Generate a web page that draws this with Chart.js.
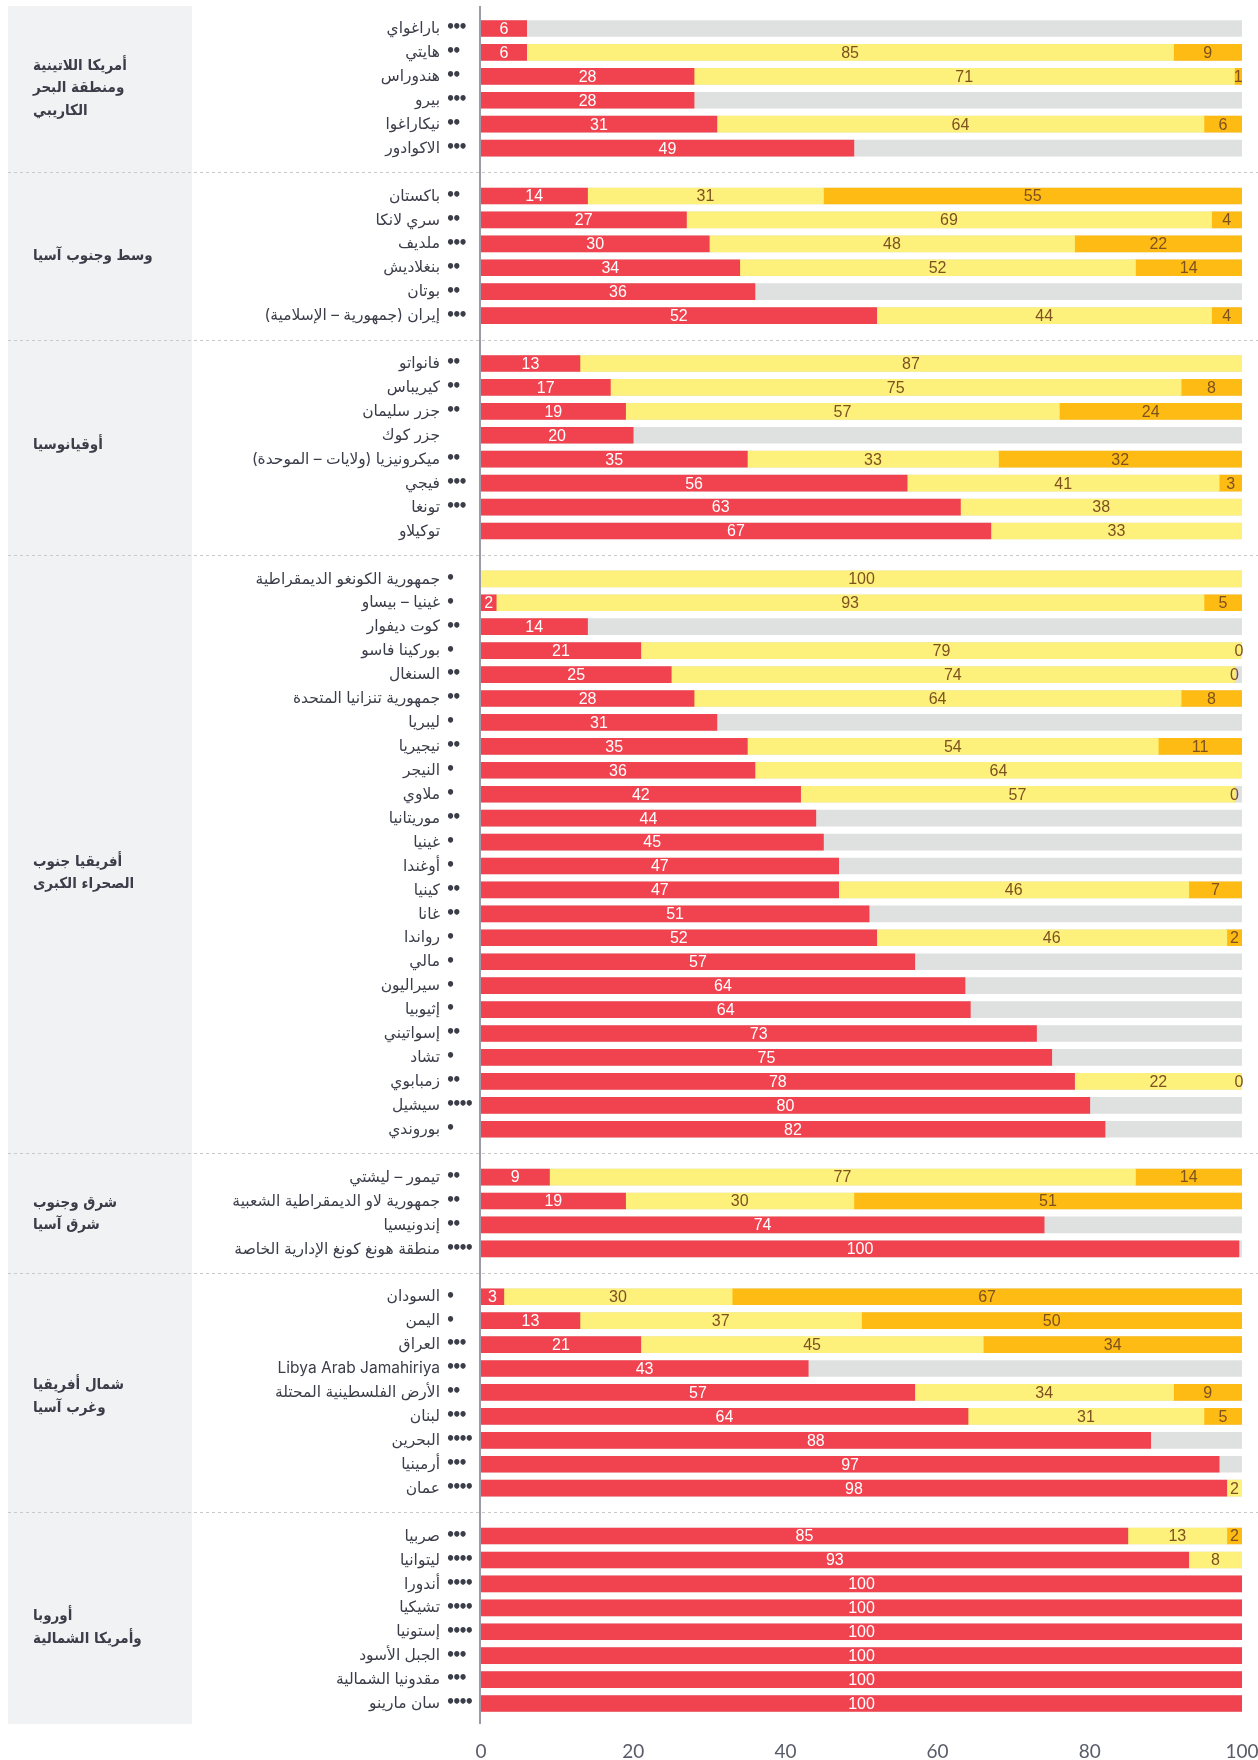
<!DOCTYPE html>
<html>
<head>
<meta charset="utf-8">
<script src="https://cdn.jsdelivr.net/npm/chart.js@4.4.1/dist/chart.umd.min.js"></script>
<style>
  html, body { margin: 0; padding: 0; background: #ffffff; }
  #wrap { width: 1258px; height: 1760px; position: relative; }
</style>
</head>
<body>
<div id="wrap"><canvas id="c" width="1258" height="1760" dir="rtl"></canvas></div>
<script>
// ---------- DATA ----------
const groupTitles = [
  ["أمريكا اللاتينية", "ومنطقة البحر", "الكاريبي"],
  ["وسط وجنوب آسيا"],
  ["أوقيانوسيا"],
  ["أفريقيا جنوب", "الصحراء الكبرى"],
  ["شرق وجنوب", "شرق آسيا"],
  ["شمال أفريقيا", "وغرب آسيا"],
  ["أوروبا", "وأمريكا الشمالية"]
];
const groupSizes = [6, 6, 8, 24, 4, 9, 8];

const countries = [
  "باراغواي", "هايتي", "هندوراس", "بيرو", "نيكاراغوا", "الاكوادور",
  "باكستان", "سري لانكا", "ملديف", "بنغلاديش", "بوتان", "إيران (جمهورية – الإسلامية)",
  "فانواتو", "كيريباس", "جزر سليمان", "جزر كوك", "ميكرونيزيا (ولايات – الموحدة)", "فيجي", "تونغا", "توكيلاو",
  "جمهورية الكونغو الديمقراطية", "غينيا – بيساو", "كوت ديفوار", "بوركينا فاسو", "السنغال", "جمهورية تنزانيا المتحدة",
  "ليبريا", "نيجيريا", "النيجر", "ملاوي", "موريتانيا", "غينيا", "أوغندا", "كينيا", "غانا", "رواندا", "مالي",
  "سيراليون", "إثيوبيا", "إسواتيني", "تشاد", "زمبابوي", "سيشيل", "بوروندي",
  "تيمور – ليشتي", "جمهورية لاو الديمقراطية الشعبية", "إندونيسيا", "منطقة هونغ كونغ الإدارية الخاصة",
  "السودان", "اليمن", "العراق", "Libya Arab Jamahiriya", "الأرض الفلسطينية المحتلة", "لبنان", "البحرين", "أرمينيا", "عمان",
  "صربيا", "ليتوانيا", "أندورا", "تشيكيا", "إستونيا", "الجبل الأسود", "مقدونيا الشمالية", "سان مارينو"
];
const dotCounts = [
  3, 2, 2, 3, 2, 3,
  2, 2, 3, 2, 2, 3,
  2, 2, 2, 0, 2, 3, 3, 0,
  1, 1, 2, 1, 2, 2, 1, 2, 1, 1, 2, 1, 1, 2, 2, 1, 1, 1, 1, 2, 1, 2, 4, 1,
  2, 2, 2, 4,
  1, 1, 3, 3, 2, 3, 4, 3, 4,
  3, 4, 4, 4, 4, 3, 3, 4
];
const redValues = [
  6, 6, 28, 28, 31, 49,
  14, 27, 30, 34, 36, 52,
  13, 17, 19, 20, 35, 56, 63, 67,
  null, 2, 14, 21, 25, 28, 31, 35, 36, 42, 44, 45, 47, 47, 51, 52, 57, 63.6, 64.3, 73, 75, 78, 80, 82,
  9, 19, 74, 99.6,
  3, 13, 21, 43, 57, 64, 88, 97, 98,
  85, 93, 100, 100, 100, 100, 100, 100
];
const yellowValues = [
  null, 85, 71, null, 64, null,
  31, 69, 48, 52, null, 44,
  87, 75, 57, null, 33, 41, 38, 33,
  100, 93, null, 79, 74, 64, null, 54, 64, 57, null, null, null, 46, null, 46, null, null, null, null, null, 22, null, null,
  77, 30, null, null,
  30, 37, 45, null, 34, 31, null, null, 2,
  13, 8, null, null, null, null, null, null
];
const orangeValues = [
  null, 9, 1, null, 6, null,
  55, 4, 22, 14, null, 4,
  null, 8, 24, null, 32, 3, null, null,
  null, 5, null, 0, 0, 8, null, 11, null, 0, null, null, null, 7, null, 2, null, null, null, null, null, 0, null, null,
  14, 51, null, null,
  67, 50, 34, null, 9, 5, null, null, null,
  2, null, null, null, null, null, null, null
];
const trackValue = 100;
const xTickValues = [0, 20, 40, 60, 80, 100];

// ---------- BUILD ROWS (with blank separator rows between groups) ----------
const rowLabels = [], rowCountryIndex = [], separatorRows = [], groupRowRanges = [];
let ci = 0;
groupSizes.forEach((n, g) => {
  const first = rowLabels.length;
  for (let k = 0; k < n; k++) { rowLabels.push(countries[ci]); rowCountryIndex.push(ci); ci++; }
  groupRowRanges.push([first, rowLabels.length - 1]);
  if (g < groupSizes.length - 1) { separatorRows.push(rowLabels.length); rowLabels.push(""); rowCountryIndex.push(-1); }
});
const mapRows = arr => rowCountryIndex.map(i => i < 0 ? null : arr[i]);
const trackRows = rowCountryIndex.map(i => i < 0 ? null : trackValue);

const COLORS = { red: '#f0434f', yellow: '#fdf17b', orange: '#fdbb13', track: '#dfe0e0' };
const TEXT = '#3b3d49';
const titleNudge = [0, 0, -2, 19, 1, 4, 8];

const decoPlugin = {
  id: 'deco',
  beforeDraw(chart) {
    const { ctx, chartArea: a } = chart;
    ctx.save();
    ctx.fillStyle = '#f1f2f4';
    ctx.fillRect(8, a.top - 10.5, 184, a.bottom - a.top + 19);
    ctx.restore();
  },
  beforeDatasetsDraw(chart) {
    const { ctx, scales: { y } } = chart;
    ctx.save();
    ctx.strokeStyle = '#c8c9cd';
    ctx.lineWidth = 1;
    ctx.setLineDash([3, 3]);
    separatorRows.forEach(r => {
      const py = Math.round(y.getPixelForValue(r)) + 0.5;
      ctx.beginPath(); ctx.moveTo(8, py); ctx.lineTo(chart.width, py); ctx.stroke();
    });
    ctx.restore();
  },
  afterDatasetsDraw(chart) {
    const { ctx, chartArea: a } = chart;
    ctx.save();
    ctx.font = '16px "Liberation Sans Narrow", "Arial Narrow", sans-serif';
    ctx.textAlign = 'center';
    ctx.textBaseline = 'middle';
    [0, 1, 2].forEach(di => {
      const meta = chart.getDatasetMeta(di);
      const ds = chart.data.datasets[di];
      meta.data.forEach((bar, i) => {
        const v = ds.data[i];
        if (v === null || v === undefined) return;
        const x0 = Math.min(bar.base, bar.x);
        const x1 = Math.min(Math.max(bar.base, bar.x), a.right);
        const cx = Math.min((x0 + x1) / 2, a.right - 3);
        ctx.fillStyle = di === 0 ? '#ffffff' : '#7e5120';
        ctx.fillText(String(Math.round(v)), cx, bar.y + 1);
      });
    });
    // vertical axis line
    ctx.strokeStyle = '#9a9ba6';
    ctx.lineWidth = 2;
    ctx.beginPath();
    ctx.moveTo(a.left - 1, a.top - 10.5);
    ctx.lineTo(a.left - 1, a.bottom + 8.5);
    ctx.stroke();
    ctx.restore();
  },
  afterDraw(chart) {
    const { ctx, scales: { y } } = chart;
    ctx.save();
    // group titles
    ctx.font = 'bold 15px "DejaVu Sans Condensed", "DejaVu Sans", sans-serif';
    ctx.fillStyle = TEXT;
    ctx.textAlign = 'left';
    ctx.textBaseline = 'middle';
    const lh = 22.5;
    groupTitles.forEach((lines, g) => {
      const [r0, r1] = groupRowRanges[g];
      const cy = (y.getPixelForValue(r0) + y.getPixelForValue(r1)) / 2 + titleNudge[g];
      lines.forEach((ln, k) => {
        ctx.fillText(ln, 33, cy + (k - (lines.length - 1) / 2) * lh);
      });
    });
    // rating dots
    ctx.font = 'bold 15px "DejaVu Sans", sans-serif';
    ctx.textAlign = 'center';
    rowCountryIndex.forEach((c, r) => {
      if (c < 0) return;
      const py = y.getPixelForValue(r);
      for (let k = 0; k < dotCounts[c]; k++) {
        ctx.fillText('•', 450.5 + k * 6.3, py);
      }
    });
    ctx.restore();
  }
};

new Chart(document.getElementById('c'), {
  type: 'bar',
  data: {
    labels: rowLabels,
    datasets: [
      { data: mapRows(redValues), backgroundColor: COLORS.red, stack: 's', order: 0 },
      { data: mapRows(yellowValues), backgroundColor: COLORS.yellow, stack: 's', order: 0 },
      { data: mapRows(orangeValues), backgroundColor: COLORS.orange, stack: 's', order: 0 },
      { data: trackRows, backgroundColor: COLORS.track, stack: 't', order: 5, grouped: false }
    ]
  },
  options: {
    indexAxis: 'y',
    responsive: false,
    animation: false,
    events: [],
    layout: { padding: { top: 16.5, right: 16, bottom: 0, left: 0 } },
    datasets: { bar: { barThickness: 16, borderWidth: 0 } },
    plugins: { legend: { display: false }, tooltip: { enabled: false } },
    scales: {
      x: {
        stacked: true,
        min: 0, max: 100,
        afterBuildTicks: s => { s.ticks = xTickValues.map(v => ({ value: v })); },
        grid: { display: false, drawTicks: false },
        border: { display: false },
        ticks: { color: '#5a5c69', font: { family: 'Lato, "DejaVu Sans", sans-serif', size: 19 }, padding: 25, maxRotation: 0 },
        afterFit: s => { s.height = 44.5; s.paddingLeft = 0; s.paddingRight = 0; }
      },
      y: {
        stacked: true,
        grid: { display: false, drawTicks: false },
        border: { display: false },
        ticks: { autoSkip: false, color: TEXT, padding: 41, font: { family: 'Inter, "DejaVu Sans", sans-serif', size: 15.5 } },
        afterFit: s => { s.width = 481; s.paddingTop = 0; s.paddingBottom = 0; }
      }
    }
  },
  plugins: [decoPlugin]
});
</script>
</body>
</html>
